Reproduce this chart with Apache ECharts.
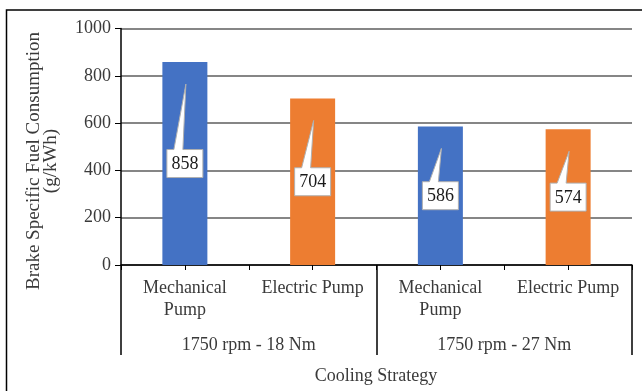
<!DOCTYPE html>
<html>
<head>
<meta charset="utf-8">
<script src="https://cdn.jsdelivr.net/npm/echarts@6/dist/echarts.min.js"></script>
<style>
  html, body { margin: 0; padding: 0; background: #fff; }
  #chart { width: 642px; height: 391px; }
</style>
</head>
<body>
<div id="chart"></div>
<script>
// Brake specific fuel consumption by cooling strategy and operating point
const categories = ['Mechanical\nPump', 'Electric Pump', 'Mechanical\nPump', 'Electric Pump'];
const groups = ['1750 rpm - 18 Nm', '1750 rpm - 27 Nm'];
const bsfcValues = [858, 704, 586, 574];
const barColors = ['#4472C4', '#ED7D31', '#4472C4', '#ED7D31'];
const yTicks = { min: 0, max: 1000, interval: 200 };

const FONT = 'Liberation Serif';
const TEXT = '#3a3a3a';

const chart = echarts.init(document.getElementById('chart'));

// Callout-shaped value label: a white box at mid-bar with a wedge pointing up toward the bar top
function renderCallout(params, api) {
  const i = api.value(0);
  const v = api.value(1);
  const top = api.coord([i, v]);
  const mid = api.coord([i, v / 2]);
  const cx = mid[0];
  const w = 36, h = 28;
  const bt = mid[1] - h / 2, bb = mid[1] + h / 2;
  const tipY = top[1] + 22;
  return {
    type: 'group',
    children: [
      {
        type: 'polygon',
        shape: {
          points: [
            [cx - w / 2, bt], [cx - 11, bt], [cx + 1, tipY], [cx - 2, bt],
            [cx + w / 2, bt], [cx + w / 2, bb], [cx - w / 2, bb]
          ]
        },
        style: { fill: '#fff', stroke: '#b0b0b0', lineWidth: 1 }
      },
      {
        type: 'text',
        style: {
          text: String(v), x: cx, y: mid[1] + 1,
          align: 'center', verticalAlign: 'middle',
          font: '18px "' + FONT + '"', fill: '#1a1a1a'
        }
      }
    ]
  };
}

chart.setOption({
  animation: false,
  backgroundColor: '#fff',
  grid: { left: 121, right: 10, top: 28.5, bottom: 126, containLabel: false },
  xAxis: [
    {
      type: 'category',
      data: categories,
      axisLine: { lineStyle: { color: '#000', width: 1.5 } },
      axisTick: { show: true, length: 5, lineStyle: { color: '#000', width: 1 } },
      axisLabel: {
        interval: 0, margin: 12, fontSize: 18, lineHeight: 22,
        fontFamily: FONT, color: TEXT
      },
      splitLine: { show: false }
    },
    {
      type: 'category',
      data: categories,
      position: 'bottom',
      axisLine: { show: false },
      axisTick: { show: true, alignWithLabel: true, length: 5, lineStyle: { color: '#000', width: 1 } },
      axisLabel: { show: false },
      splitLine: { show: false }
    },
    {
      type: 'category',
      data: groups,
      position: 'bottom',
      axisLine: { show: false },
      axisTick: { show: true, length: 90, lineStyle: { color: '#000', width: 1.5 } },
      axisLabel: {
        interval: 0, margin: 71, fontSize: 18,
        fontFamily: FONT, color: TEXT
      },
      splitLine: { show: false }
    }
  ],
  yAxis: {
    type: 'value',
    min: yTicks.min, max: yTicks.max, interval: yTicks.interval,
    axisLine: { show: true, lineStyle: { color: '#000', width: 1.5 } },
    axisTick: { show: true, length: 6, lineStyle: { color: '#000', width: 1 } },
    axisLabel: {
      margin: 10, fontSize: 18, fontFamily: FONT, color: TEXT,
      formatter: (v) => String(v)
    },
    splitLine: { show: true, lineStyle: { color: '#5e5e5e', width: 1.5 } }
  },
  series: [
    {
      type: 'bar',
      xAxisIndex: 0,
      barWidth: 45,
      data: bsfcValues.map((v, i) => ({ value: v, itemStyle: { color: barColors[i] } })),
      z: 2
    },
    {
      type: 'custom',
      xAxisIndex: 0,
      yAxisIndex: 0,
      renderItem: renderCallout,
      encode: { x: 0, y: 1 },
      data: bsfcValues.map((v, i) => [i, v]),
      z: 5
    }
  ],
  graphic: [
    {
      type: 'rect',
      silent: true,
      shape: { x: 6.5, y: 10, width: 700, height: 500 },
      style: { fill: 'none', stroke: '#000', lineWidth: 1.5 },
      z: -1
    },
    {
      type: 'text',
      x: 43, y: 161,
      rotation: Math.PI / 2,
      style: {
        text: 'Brake Specific Fuel Consumption\n(g/kWh)',
        align: 'center', verticalAlign: 'middle',
        font: '19px "' + FONT + '"', lineHeight: 17, fill: TEXT
      }
    },
    {
      type: 'text',
      x: 376, y: 376,
      style: {
        text: 'Cooling Strategy',
        align: 'center', verticalAlign: 'middle',
        font: '18px "' + FONT + '"', fill: TEXT
      }
    }
  ]
});
</script>
</body>
</html>
